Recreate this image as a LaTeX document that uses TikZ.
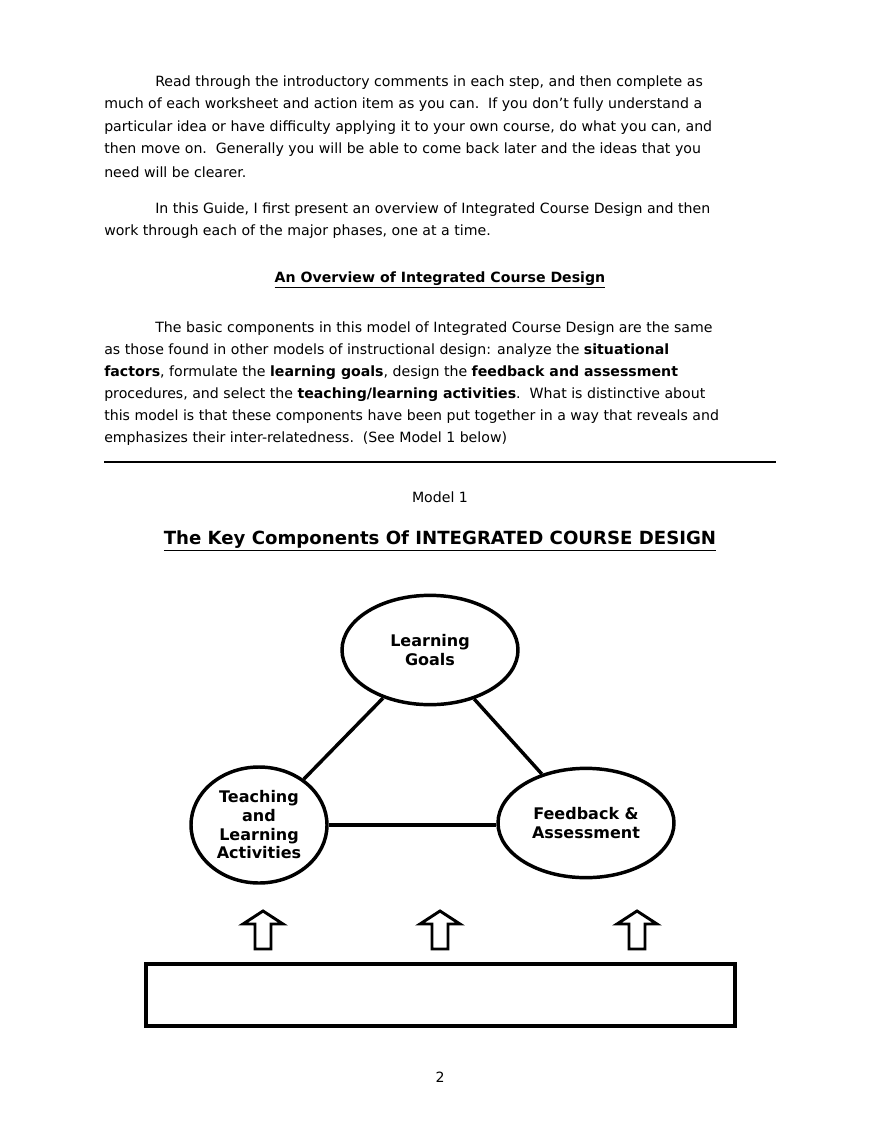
\documentclass[tikz,border=0pt]{standalone}
\usepackage{fontspec}
\setmainfont{DejaVu Sans}
\usetikzlibrary{shapes.geometric}
\tikzset{
	txt/.style={anchor=west, inner sep=0pt, font=\fontsize{10.6}{12}\selectfont},
	comp/.style={ellipse, draw, line width=2.6pt, font=\bfseries\fontsize{12}{14}\selectfont, align=center, inner sep=0pt},
	link/.style={line width=2.6pt},
	uparrow/.style={draw, line width=2.2pt, line join=miter}
}
\newcommand{\hollowup}[2]{%
	\draw[uparrow] (#1-8,#2+38) -- (#1-8,#2+13) -- (#1-20,#2+13) -- (#1,#2) -- (#1+20,#2+13) -- (#1+8,#2+13) -- (#1+8,#2+38) -- cycle;}
\begin{document}
\begin{tikzpicture}[x=0.75pt, y=-0.75pt]
	\useasboundingbox (0,0) rectangle (880,1139);
	% introduction
	\node[txt] at (155,83) {Read through the introductory comments in each step, and then complete as};
	\node[txt] at (104,105) {much of each worksheet and action item as you can.\ \ If you don’t fully understand a};
	\node[txt] at (104,128) {particular idea or have difficulty applying it to your own course, do what you can, and};
	\node[txt] at (104,150) {then move on.\ \ Generally you will be able to come back later and the ideas that you};
	\node[txt] at (104,172) {need will be clearer.};
	\node[txt] at (155,210) {In this Guide, I first present an overview of Integrated Course Design and then};
	\node[txt] at (104,232) {work through each of the major phases, one at a time.};
	\node[txt, anchor=center] at (440,280) {\bfseries\underline{An Overview of Integrated Course Design}};
	\node[txt] at (155,329) {The basic components in this model of Integrated Course Design are the same};
	\node[txt] at (104,351) {as those found in other models of instructional design: analyze the \textbf{situational}};
	\node[txt] at (104,373) {\textbf{factors}, formulate the \textbf{learning goals}, design the \textbf{feedback and assessment}};
	\node[txt] at (104,395) {procedures, and select the \textbf{teaching/learning activities}.\ \ What is distinctive about};
	\node[txt] at (104,417) {this model is that these components have been put together in a way that reveals and};
	\node[txt] at (104,439) {emphasizes their inter-relatedness.\ \ (See Model 1 below)};
	\draw[line width=1pt] (104,462) -- (776,462);
	% model
	\node[txt, anchor=center] (model) at (440,497) {Model 1};
	\node[inner sep=0pt, font=\bfseries\fontsize{13.6}{16}\selectfont] (title) at (440,541) {\underline{The Key Components Of INTEGRATED COURSE DESIGN}};
	\node[comp, minimum width=132pt, minimum height=82pt] (goals) at (430,650) {Learning\\Goals};
	\node[comp, minimum width=102pt, minimum height=87pt] (teach) at (259,825) {Teaching\\and\\Learning\\Activities};
	\node[comp, minimum width=132pt, minimum height=82pt] (assess) at (586,823) {Feedback \&\\Assessment};
	\draw[link] (goals) -- (teach);
	\draw[link] (goals) -- (assess);
	\draw[link] (teach.east) -- (teach.east -| assess.west);
	\foreach \x in {263,440,637}
		\hollowup{\x}{911}
	\node[draw, line width=2.8pt, minimum width=442pt, minimum height=47pt] (factors) at (440.5,995) {};
	\node[txt, anchor=center] (page) at (440,1077) {2};
\end{tikzpicture}
\end{document}
